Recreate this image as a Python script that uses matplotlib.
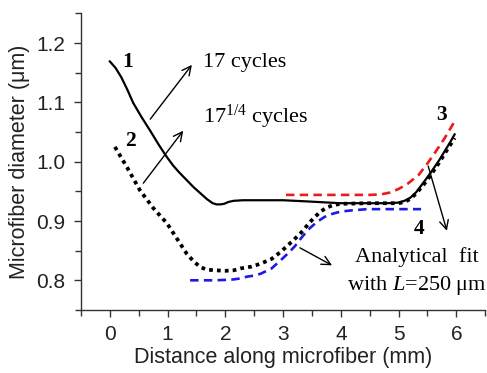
import matplotlib
matplotlib.use("Agg")
import matplotlib.pyplot as plt
import numpy as np

plt.rcParams['mathtext.fontset'] = 'custom'
plt.rcParams['mathtext.rm'] = 'Liberation Serif'
plt.rcParams['mathtext.it'] = 'Liberation Serif:italic'
plt.rcParams['mathtext.bf'] = 'Liberation Serif:bold'

# Curve 1: 17 cycles (solid black)
x1 = [0.0, 0.1, 0.2, 0.3, 0.405, 0.55, 0.7, 0.85, 0.986, 1.1, 1.2, 1.33, 1.45, 1.565, 1.68, 1.78, 1.85, 1.91, 1.98, 2.05, 2.14, 2.3, 2.5, 3.0, 3.42, 3.8, 4.0, 4.5, 4.8, 5.0, 5.1, 5.2, 5.3, 5.44, 5.56, 5.7, 5.8, 5.9, 5.97]
y1 = [1.169, 1.158, 1.142, 1.122, 1.099, 1.075, 1.052, 1.028, 1.008, 0.993, 0.982, 0.969, 0.957, 0.947, 0.937, 0.930, 0.928, 0.928, 0.929, 0.932, 0.934, 0.935, 0.935, 0.935, 0.933, 0.931, 0.930, 0.930, 0.930, 0.931, 0.934, 0.939, 0.948, 0.966, 0.982, 1.002, 1.018, 1.034, 1.046]

# Curve 2: 17 1/4 cycles (dotted black)
x2 = [0.087, 0.3, 0.52, 0.75, 0.99, 1.15, 1.33, 1.45, 1.57, 1.68, 1.80, 2.0, 2.15, 2.26, 2.45, 2.61, 2.8, 2.96, 3.15, 3.30, 3.43, 3.53, 3.65, 3.76, 3.88, 4.0, 4.5, 5.0, 5.1, 5.2, 5.3, 5.44, 5.56, 5.7, 5.8, 5.9, 5.97]
y2 = [1.025, 0.99, 0.952, 0.922, 0.896, 0.872, 0.845, 0.832, 0.822, 0.818, 0.817, 0.816, 0.817, 0.820, 0.823, 0.828, 0.836, 0.848, 0.865, 0.879, 0.894, 0.905, 0.916, 0.923, 0.927, 0.929, 0.930, 0.930, 0.932, 0.937, 0.946, 0.962, 0.978, 0.998, 1.014, 1.029, 1.040]

# Curve 3: analytical fit (red dashed)
x3 = [3.05, 3.5, 4.0, 4.5, 4.7, 4.85, 5.0, 5.16, 5.35, 5.5, 5.65, 5.8, 5.97]
y3 = [0.944, 0.944, 0.944, 0.944, 0.945, 0.948, 0.954, 0.963, 0.978, 0.997, 1.018, 1.04, 1.068]

# Curve 4: analytical fit (blue dashed)
x4 = [1.39, 1.8, 2.1, 2.25, 2.37, 2.5, 2.61, 2.8, 2.96, 3.08, 3.20, 3.32, 3.43, 3.58, 3.72, 3.85, 4.0, 4.2, 4.46, 5.0, 5.39]
y4 = [0.800, 0.800, 0.801, 0.803, 0.806, 0.808, 0.811, 0.820, 0.834, 0.845, 0.857, 0.872, 0.885, 0.898, 0.907, 0.912, 0.916, 0.918, 0.920, 0.920, 0.920]

xticks = [0, 1, 2, 3, 4, 5, 6]
yticks = [0.8, 0.9, 1.0, 1.1, 1.2]
ytick_labels = ['0.8', '0.9', '1.0', '1.1', '1.2']

fig = plt.figure(figsize=(4.87, 3.73), dpi=100)
ax = fig.add_axes([0.1663, 0.169, 0.83, 0.795])

ax.plot(x1, y1, color='black', lw=1.6, zorder=4)
ax.plot(x3, y3, color='#e81c1c', lw=1.9, dashes=(3.2, 2.0), zorder=3)
ax.plot(x4, y4, color='#1c1ce0', lw=1.9, dashes=(3.2, 2.0), zorder=3)
ax.plot(x2, y2, color='black', lw=2.7, dashes=(1.0, 1.1), zorder=5)

ax.set_xlim(-0.5, 6.5)
ax.set_ylim(0.75, 1.25)
ax.set_xticks(xticks)
ax.set_yticks(yticks)
ax.set_xticks(np.arange(-0.5, 6.6, 1.0), minor=True)
ax.set_yticks([0.75, 0.85, 0.95, 1.05, 1.15, 1.25], minor=True)
ax.set_yticklabels(ytick_labels)
for s in ['top', 'right']:
    ax.spines[s].set_visible(False)
for s in ['left', 'bottom']:
    ax.spines[s].set_linewidth(1.0)
    ax.spines[s].set_color('#333333')
ax.tick_params(which='major', length=5, width=1.0, color='#333333',
               labelsize=15, labelcolor='#222222', pad=6)
ax.tick_params(which='minor', length=4, width=1.0, color='#333333')
for lab in ax.get_xticklabels() + ax.get_yticklabels():
    lab.set_family('Liberation Sans')

ax.set_xlabel('Distance along microfiber (mm)', fontsize=15.5, family='Liberation Sans',
              color='#222222', labelpad=2)
ax.set_ylabel('Microfiber diameter (μm)', fontsize=15.5, family='Liberation Sans',
              color='#222222', labelpad=5)

serif = 'Liberation Serif'
ax.text(0.31, 1.168, '1', fontsize=15.5, family=serif, fontweight='bold', ha='center', va='center')
ax.text(0.35, 1.035, '2', fontsize=15.5, family=serif, fontweight='bold', ha='center', va='center')
ax.text(5.74, 1.078, '3', fontsize=15.5, family=serif, fontweight='bold', ha='center', va='center')
ax.text(5.36, 0.886, '4', fontsize=15.5, family=serif, fontweight='bold', ha='center', va='center')

ax.text(1.62, 1.168, '17 cycles', fontsize=16, family=serif, ha='left', va='center')
ax.text(1.62, 1.076, r'17$^{\mathregular{1/4}}$ cycles', fontsize=16, family=serif, ha='left', va='center')
ax.text(5.32, 0.84, 'Analytical  fit', fontsize=16, family=serif, ha='center', va='center')
ax.text(5.32, 0.792, r'with $\mathit{L}$=250 μm', fontsize=16, family=serif, ha='center', va='center')

arrow = dict(arrowstyle='->', color='black', lw=1.0, mutation_scale=16)
ax.annotate('', xy=(1.45, 1.167), xytext=(0.67, 1.068), arrowprops=arrow)
ax.annotate('', xy=(1.30, 1.056), xytext=(0.55, 0.96), arrowprops=arrow)
ax.annotate('', xy=(5.85, 0.879), xytext=(5.5, 0.997), arrowprops=arrow)
ax.annotate('', xy=(3.89, 0.823), xytext=(3.25, 0.857), arrowprops=arrow)

fig.savefig('out.png', dpi=100)
